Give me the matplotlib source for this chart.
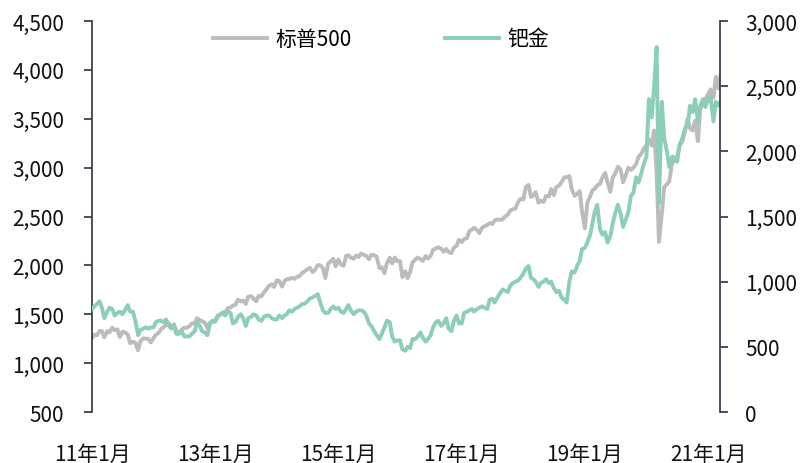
import matplotlib
matplotlib.use('Agg')
import matplotlib.pyplot as plt
from matplotlib.ticker import FuncFormatter
import pandas as pd

plt.rcParams['font.family'] = ['Noto Sans CJK SC', 'DejaVu Sans']

# semi-monthly points (1st and 15th), Jan 2011 - Mar 2021
dates = pd.date_range('2011-01-01', '2021-03-15', freq='SMS')

# 标普500 (left axis)
spx = [
    1258, 1290, 1286, 1330, 1327, 1265, 1326, 1315, 1364, 1337, 1345, 1268, 1321, 1316, 1292, 1204, 1219, 1209, 1131, 1225, 1253, 1251, 1247, 1212,
    1258, 1290, 1312, 1350, 1366, 1395, 1408, 1370, 1398, 1330, 1310, 1342, 1362, 1360, 1379, 1405, 1407, 1460, 1441, 1428, 1412, 1360, 1416, 1420,
    1426, 1472, 1498, 1520, 1515, 1560, 1569, 1588, 1598, 1650, 1631, 1640, 1606, 1680, 1686, 1660, 1633, 1688, 1682, 1720, 1757, 1790, 1806, 1780,
    1848, 1840, 1783, 1840, 1859, 1860, 1872, 1862, 1884, 1890, 1924, 1940, 1960, 1975, 1931, 1955, 2003, 2000, 1972, 1870, 2018, 2040, 2068, 1990,
    2059, 2010, 1995, 2095, 2105, 2080, 2068, 2100, 2086, 2120, 2107, 2095, 2063, 2110, 2104, 2090, 1972, 1980, 1920, 2020, 2079, 2020, 2080, 2045,
    2044, 1880, 1940, 1870, 1932, 2030, 2060, 2080, 2065, 2045, 2097, 2070, 2099, 2160, 2174, 2185, 2171, 2140, 2168, 2135, 2126, 2180, 2199, 2262,
    2239, 2270, 2279, 2350, 2364, 2385, 2363, 2330, 2384, 2400, 2412, 2433, 2423, 2460, 2470, 2465, 2472, 2500, 2519, 2560, 2575, 2580, 2648, 2680,
    2674, 2800, 2824, 2700, 2714, 2750, 2641, 2660, 2648, 2710, 2705, 2780, 2718, 2800, 2816, 2850, 2902, 2900, 2914, 2780, 2712, 2730, 2760, 2550,
    2380, 2640, 2704, 2770, 2784, 2820, 2834, 2900, 2946, 2850, 2752, 2900, 2942, 3010, 2980, 2850, 2926, 3000, 2977, 3000, 3038, 3110, 3141, 3190,
    3231, 3290, 3226, 3380, 2954, 2240, 2530, 2800, 2830, 2860, 3050, 3070, 3115, 3225, 3270, 3370, 3500, 3400, 3380, 3480, 3270, 3600, 3660, 3700,
    3756, 3800, 3714, 3930, 3811, 3940,
]

# 钯金 (right axis)
pd_gold = [
    790, 810, 830, 850, 800, 720, 770, 800, 790, 740, 760, 770, 750, 780, 820, 770, 770, 700, 590, 630, 640, 650, 640, 650,
    650, 690, 700, 700, 690, 710, 660, 640, 660, 600, 600, 620, 580, 580, 580, 600, 620, 690, 660, 620, 610, 590, 680, 700,
    700, 740, 750, 760, 740, 770, 760, 680, 690, 730, 750, 720, 660, 720, 730, 750, 740, 710, 700, 730, 740, 740, 720, 710,
    710, 740, 720, 740, 750, 780, 770, 790, 800, 810, 830, 830, 850, 870, 880, 890, 905, 840, 780, 760, 760, 790, 810, 790,
    800, 770, 760, 790, 820, 780, 750, 770, 780, 780, 770, 740, 680, 660, 620, 590, 560, 600, 650, 700, 690, 580, 540, 550,
    550, 480, 470, 500, 490, 560, 560, 580, 610, 570, 540, 560, 590, 650, 690, 700, 660, 680, 720, 640, 620, 700, 740, 680,
    680, 760, 770, 780, 790, 770, 790, 800, 810, 800, 790, 860, 870, 840, 880, 910, 940, 930, 920, 970, 990, 1000, 1010, 1030,
    1060, 1100, 1120, 1030, 1020, 1000, 960, 990, 1000, 1020, 990, 1000, 950, 920, 930, 880, 860, 840, 1000, 1080, 1070, 1120, 1160, 1250,
    1260, 1300, 1360, 1450, 1540, 1590, 1400, 1360, 1380, 1300, 1350, 1450, 1530, 1590, 1520, 1420, 1480, 1530, 1660, 1680, 1800, 1760, 1830, 1900,
    1960, 2400, 2260, 2500, 2800, 1600, 2380, 2100, 2000, 1880, 1960, 1950, 1920, 2050, 2100, 2170, 2200, 2350, 2300, 2400, 2230, 2350, 2400, 2340,
    2400, 2420, 2230, 2380, 2350, 2380,
]

xtick_years = [2011, 2013, 2015, 2017, 2019, 2021]
xtick_labels = ['11年1月', '13年1月', '15年1月', '17年1月', '19年1月', '21年1月']

gray = '#bcbcbc'
green = '#8dceb7'
spine_c = '#3d414c'

fig = plt.figure(figsize=(8.02, 4.64), dpi=100)
ax = fig.add_axes([0.1147, 0.1099, 0.7831, 0.8427])
ax2 = ax.twinx()

l1, = ax.plot(dates, spx, color=gray, lw=2.8, label='标普500')
l2, = ax2.plot(dates, pd_gold, color=green, lw=2.8, label='钯金')

ax.set_ylim(500, 4500)
ax.set_yticks(range(500, 4501, 500))
ax2.set_ylim(0, 3000)
ax2.set_yticks(range(0, 3001, 500))
fmt = FuncFormatter(lambda v, p: f'{int(v):,}')
ax.yaxis.set_major_formatter(fmt)
ax2.yaxis.set_major_formatter(fmt)

ax.set_xlim(pd.Timestamp('2011-01-01'), pd.Timestamp('2021-03-12'))
ax.set_xticks([pd.Timestamp(f'{y}-01-01') for y in xtick_years])
ax.set_xticklabels(xtick_labels)

for a in (ax, ax2):
    a.spines['top'].set_visible(False)
    a.spines['bottom'].set_visible(False)
    a.spines['left'].set_color(spine_c)
    a.spines['right'].set_color(spine_c)
    a.spines['left'].set_linewidth(1.3)
    a.spines['right'].set_linewidth(1.3)
ax.spines['right'].set_visible(False)
ax2.spines['left'].set_visible(False)

ax.tick_params(axis='y', direction='out', length=6, width=1.3, color=spine_c, labelsize=15, pad=14, labelcolor='#111111')
ax2.tick_params(axis='y', direction='out', length=6, width=1.3, color=spine_c, labelsize=15, pad=12, labelcolor='#111111')
ax.tick_params(axis='x', length=0, labelsize=15, pad=22, labelcolor='#111111')

ax.legend([l1, l2], ['标普500', '钯金'], loc='upper center', bbox_to_anchor=(0.46, 1.03),
          ncol=2, frameon=False, fontsize=15, handlelength=2.6, columnspacing=4.5, handletextpad=0.4)

fig.savefig('out.png', dpi=100)
